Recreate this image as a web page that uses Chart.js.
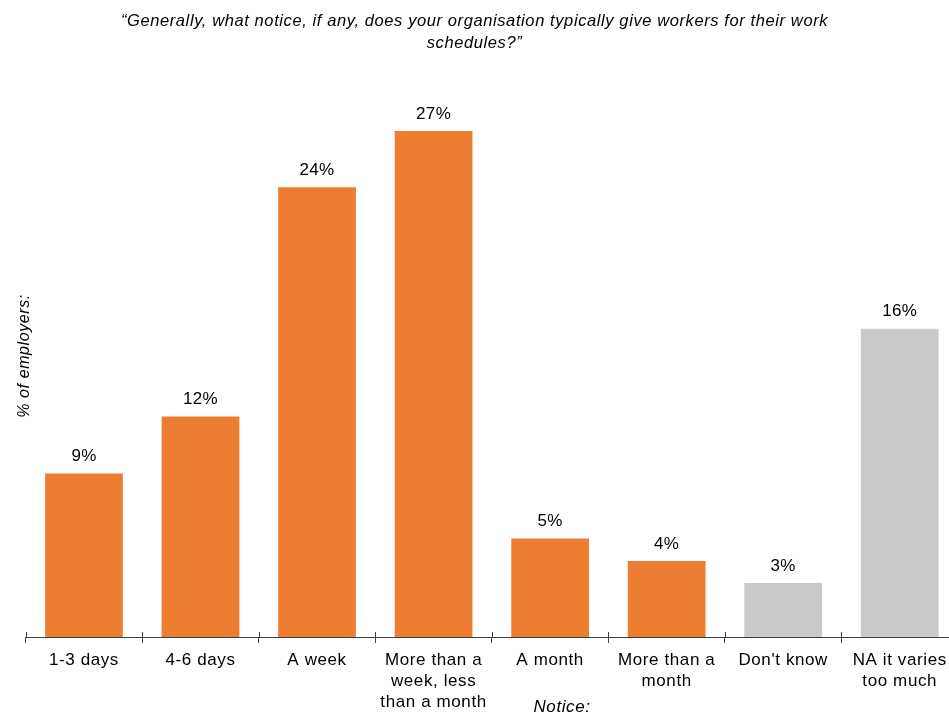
<!DOCTYPE html>
<html>
<head>
<meta charset="utf-8">
<script src="https://cdn.jsdelivr.net/npm/chart.js@4/dist/chart.umd.min.js"></script>
<style>
  html, body { margin: 0; padding: 0; background: #fff; overflow: hidden; width: 949px; height: 716px; }
  #wrap { position: absolute; left: -9px; top: 0; width: 967px; height: 716px; }
</style>
</head>
<body>
<div id="wrap"><canvas id="c" width="967" height="716"></canvas></div>
<script>
const titleLines = ['\u201CGenerally, what notice, if any, does your organisation typically give workers for their work', 'schedules?\u201D'];
const yTitle = '% of employers:';
const xTitle = 'Notice:';
const categories = ['1-3 days', '4-6 days', 'A week', ['More than a', 'week, less', 'than a month'], 'A month', ['More than a', 'month'], "Don't know", ['NA it varies', 'too much']];
const values = [8.72, 11.77, 24.0, 27.0, 5.26, 4.05, 2.88, 16.45];
const valueLabels = values.map(v => Math.round(v) + '%');

const FONT = '"Liberation Sans", Arial, sans-serif';
const ORANGE = '#ED7D31';
const GREY = '#C9C9C9';
const AXIS = '#404040';

const decor = {
  id: 'decor',
  beforeDraw(chart) {
    chart.ctx.letterSpacing = '0.6px';
  },
  afterDatasetsDraw(chart) {
    const ctx = chart.ctx;
    const meta = chart.getDatasetMeta(0);
    ctx.save();
    ctx.letterSpacing = '0.3px';
    ctx.font = '17px ' + FONT;
    ctx.fillStyle = '#000';
    ctx.textAlign = 'center';
    ctx.textBaseline = 'middle';
    meta.data.forEach((bar, i) => ctx.fillText(valueLabels[i], bar.x, bar.y - 17));
    // upward part of the category separator ticks
    const xs = chart.scales.x;
    ctx.strokeStyle = AXIS;
    ctx.lineWidth = 1;
    ctx.beginPath();
    for (let i = 0; i <= categories.length; i++) {
      const px = Math.round(xs.getPixelForValue(i - 0.5)) + 0.5;
      ctx.moveTo(px, xs.top - 5);
      ctx.lineTo(px, xs.top);
    }
    ctx.stroke();
    // x axis title
    ctx.letterSpacing = '0.6px';
    ctx.font = 'italic 17px ' + FONT;
    ctx.fillText(xTitle, 571, 707);
    ctx.restore();
  }
};

new Chart(document.getElementById('c'), {
  type: 'bar',
  data: {
    labels: categories,
    datasets: [{
      data: values,
      backgroundColor: (c) => c.dataIndex >= categories.length - 2 ? GREY : ORANGE,
      borderWidth: 0,
      barPercentage: 0.667,
      categoryPercentage: 1
    }]
  },
  options: {
    responsive: false,
    animation: false,
    devicePixelRatio: 1,
    layout: { padding: 0 },
    plugins: {
      legend: { display: false },
      tooltip: { enabled: false },
      title: {
        display: true,
        text: titleLines,
        color: '#000',
        font: { family: FONT, size: 16.5, style: 'italic', weight: 'normal', lineHeight: 1.36 },
        padding: { top: 10, bottom: 20 }
      }
    },
    scales: {
      x: {
        afterFit: (s) => { s.height = 79; },
        grid: { drawOnChartArea: false, tickLength: 6, color: AXIS, offset: true },
        border: { color: AXIS, width: 1 },
        ticks: {
          color: '#000',
          font: { family: FONT, size: 17, lineHeight: 1.235 },
          padding: 6.5,
          maxRotation: 0,
          autoSkip: false
        }
      },
      y: {
        min: 0,
        max: 30,
        afterFit: (s) => { s.width = 34.7; },
        grid: { display: false },
        border: { display: false },
        ticks: { display: false },
        title: {
          display: true,
          text: yTitle,
          color: '#000',
          font: { family: FONT, size: 16, style: 'italic', lineHeight: 1.2 },
          padding: { top: 24.4, bottom: 0 }
        }
      }
    }
  },
  plugins: [decor]
});
</script>
</body>
</html>
